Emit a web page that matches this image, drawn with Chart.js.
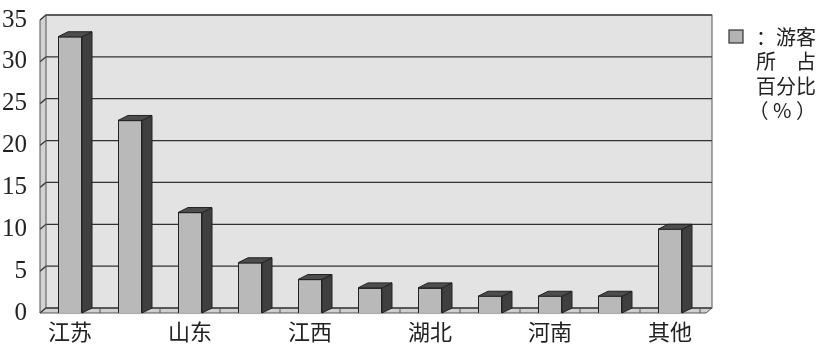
<!DOCTYPE html>
<html>
<head>
<meta charset="utf-8">
<script src="https://cdn.jsdelivr.net/npm/chart.js@4"></script>
<style>
  html, body { margin: 0; padding: 0; background: #fff; }
  #wrap { width: 823px; height: 346px; }
</style>
</head>
<body>
<div id="wrap"><canvas id="barChart" width="823" height="346"></canvas></div>
<script>
// datuak
const categories = ["江苏", "", "山东", "", "江西", "", "湖北", "", "河南", "", "其他"];
const shares = [33, 23, 12, 6, 4, 3, 3, 2, 2, 2, 10];
const yTickValues = [0, 5, 10, 15, 20, 25, 30, 35];
const legendLines = ["：游客", "所　占", "百分比", "（ % ）"];

const WX = 6, WY = 5;   // hormaren sakonera
const BX = 10, BY = 5;  // barren sakonera
const EXTRA = 12;

// horma, lurra eta sareta
const wallPlugin = {
    id: "wall3d",
    beforeDatasetsDraw(chart) {
        const { ctx, chartArea: { left, right, top, bottom }, scales: { y } } = chart;
        const r = right + EXTRA;
        ctx.save();
        ctx.fillStyle = "#e3e3e3";
        ctx.fillRect(left + WX, top - WY, r - left - WX, bottom - top);
        // ezker horma
        ctx.fillStyle = "#d2d2d2";
        ctx.beginPath();
        ctx.moveTo(left, top); ctx.lineTo(left + WX, top - WY);
        ctx.lineTo(left + WX, bottom - WY); ctx.lineTo(left, bottom);
        ctx.closePath(); ctx.fill();
        // lurra
        ctx.fillStyle = "#cfcfcf";
        ctx.beginPath();
        ctx.moveTo(left, bottom); ctx.lineTo(left + WX, bottom - WY);
        ctx.lineTo(r, bottom - WY); ctx.lineTo(r - WX, bottom);
        ctx.closePath(); ctx.fill();

        ctx.strokeStyle = "#333";
        ctx.lineWidth = 1.3;
        yTickValues.forEach(v => {
            const py = y.getPixelForValue(v);
            ctx.beginPath();
            ctx.moveTo(left, py); ctx.lineTo(left + WX, py - WY); ctx.lineTo(r, py - WY);
            ctx.stroke();
        });
        ctx.lineWidth = 1;
        ctx.strokeStyle = "#555";
        ctx.strokeRect(left + WX, top - WY, r - left - WX, bottom - top);
        ctx.beginPath();
        ctx.moveTo(left, top); ctx.lineTo(left, bottom); ctx.lineTo(r - WX, bottom); ctx.lineTo(r, bottom - WY);
        ctx.stroke();
        // lurreko marrak
        const step = (right - left) / categories.length;
        for (let i = 1; i <= categories.length; i++) {
            const px = left + i * step;
            ctx.beginPath();
            ctx.moveTo(px, bottom - 4); ctx.lineTo(px, bottom);
            ctx.stroke();
        }
        ctx.restore();
    },
    afterDatasetsDraw(chart) {
        const { ctx } = chart;
        const meta = chart.getDatasetMeta(0);
        ctx.save();
        ctx.strokeStyle = "#222";
        ctx.lineWidth = 1;
        meta.data.forEach(bar => {
            const { x, y, width, base } = bar.getProps(["x", "y", "width", "base"], true);
            const l = x - width / 2, rr = x + width / 2;
            ctx.fillStyle = "#3f3f3f";
            ctx.beginPath();
            ctx.moveTo(rr, y); ctx.lineTo(rr + BX, y - BY); ctx.lineTo(rr + BX, base - BY); ctx.lineTo(rr, base);
            ctx.closePath(); ctx.fill(); ctx.stroke();
            ctx.fillStyle = "#4d4d4d";
            ctx.beginPath();
            ctx.moveTo(l, y); ctx.lineTo(l + BX, y - BY); ctx.lineTo(rr + BX, y - BY); ctx.lineTo(rr, y);
            ctx.closePath(); ctx.fill(); ctx.stroke();
        });
        ctx.restore();
    },
    afterDraw(chart) {
        const { ctx } = chart;
        ctx.save();
        ctx.fillStyle = "#b3b3b3";
        ctx.strokeStyle = "#333";
        ctx.lineWidth = 1.2;
        ctx.fillRect(729, 30, 14, 13);
        ctx.strokeRect(729, 30, 14, 13);
        ctx.fillStyle = "#222";
        ctx.font = "20px 'Noto Sans CJK SC'";
        ctx.textAlign = "right";
        ctx.textBaseline = "middle";
        legendLines.forEach((t, i) => ctx.fillText(t, 816, 37 + i * 24.5));
        ctx.restore();
    }
};

new Chart(document.getElementById("barChart").getContext("2d"), {
    type: "bar",
    data: {
        labels: categories,
        datasets: [{
            label: "游客所占百分比（%）",
            data: shares,
            backgroundColor: "#b9b9b9",
            borderColor: "#222",
            borderWidth: 1,
            barPercentage: 0.4,
            categoryPercentage: 1
        }]
    },
    options: {
        responsive: false,
        animation: false,
        layout: { padding: { top: 17, right: 123, left: 0, bottom: 0 } },
        plugins: { legend: { display: false }, tooltip: { enabled: false } },
        scales: {
            x: {
                grid: { display: false },
                border: { display: false },
                ticks: {
                    autoSkip: false, maxRotation: 0, padding: 0,
                    color: "#222",
                    font: { family: "'Noto Sans CJK SC'", size: 22, lineHeight: 1 }
                },
                afterFit: s => { s.height = 33; }
            },
            y: {
                min: 0, max: 35,
                grid: { display: false },
                border: { display: false },
                afterBuildTicks: s => { s.ticks = yTickValues.map(v => ({ value: v })); },
                ticks: {
                    padding: 5,
                    color: "#222",
                    font: { family: "'Liberation Serif'", size: 25 }
                },
                afterFit: s => { s.width = 40; }
            }
        }
    },
    plugins: [wallPlugin]
});
</script>
</body>
</html>
